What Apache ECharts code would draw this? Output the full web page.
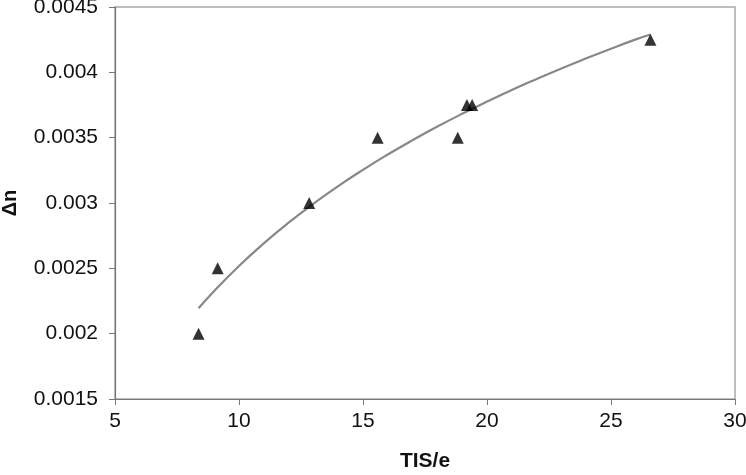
<!DOCTYPE html>
<html>
<head>
<meta charset="utf-8">
<script src="https://cdn.jsdelivr.net/npm/echarts@6/dist/echarts.min.js"></script>
<style>
html,body{margin:0;padding:0;background:#fff;}
#chart{width:746px;height:475px;}
</style>
</head>
<body>
<div id="chart"></div>
<script>
// Measured data points (TIS/e, Δn)
var pointsX = [8.37, 9.14, 12.83, 15.59, 18.82, 19.19, 19.4, 26.59];
var pointsY = [0.002, 0.0025, 0.003, 0.0035, 0.0035, 0.00375, 0.00375, 0.00425];

// Trend curve
var curveX = [8.37, 9, 10, 11, 12, 13, 14, 15, 16, 17, 18, 19, 20, 21, 22, 23, 24, 25, 26, 26.59];
var curveY = [0.002195, 0.002327, 0.002518, 0.002691, 0.002849, 0.002994, 0.003129, 0.003254, 0.003371, 0.003481, 0.003585, 0.003683, 0.003776, 0.003865, 0.003949, 0.004030, 0.004107, 0.004181, 0.004252, 0.004290];

var xTicks = [5, 10, 15, 20, 25, 30];
var yTicks = [0.0015, 0.002, 0.0025, 0.003, 0.0035, 0.004, 0.0045];

var xName = 'TIS/e';
var yName = 'Δn';

var pts = pointsX.map(function(x, i){ return [x, pointsY[i]]; });
var crv = curveX.map(function(x, i){ return [x, curveY[i]]; });

var font = 'Liberation Sans, Arial, sans-serif';
var chart = echarts.init(document.getElementById('chart'), null, {renderer: 'canvas'});
chart.setOption({
  animation: false,
  backgroundColor: '#fff',
  grid: {left: 115, right: 11, top: 7, bottom: 76, show: true, borderColor: '#a8a8a8', borderWidth: 1.5,
         containLabel: false, outerBoundsMode: 'none'},
  xAxis: {
    type: 'value', min: xTicks[0], max: xTicks[xTicks.length-1], interval: 5,
    name: xName, nameLocation: 'middle', nameGap: 52,
    nameTextStyle: {fontFamily: font, fontSize: 21, fontWeight: 'bold', color: '#111'},
    axisLine: {show: true, lineStyle: {color: '#777', width: 1.2}},
    axisTick: {show: true, inside: false, length: 6, lineStyle: {color: '#777'}},
    axisLabel: {fontFamily: font, fontSize: 21, color: '#111', margin: 12},
    splitLine: {show: false}
  },
  yAxis: {
    type: 'value', min: yTicks[0], max: yTicks[yTicks.length-1], interval: 0.0005,
    name: yName, nameLocation: 'middle', nameGap: 95, nameRotate: 90,
    nameTextStyle: {fontFamily: font, fontSize: 20, fontWeight: 'bold', color: '#111'},
    axisLine: {show: true, lineStyle: {color: '#777', width: 1.2}},
    axisTick: {show: true, inside: false, length: 6, lineStyle: {color: '#777'}},
    axisLabel: {fontFamily: font, fontSize: 21, color: '#111', margin: 17,
      formatter: function(v){ return String(parseFloat(v.toFixed(5))); }},
    splitLine: {show: false}
  },
  series: [
    {
      type: 'line', data: crv, smooth: true, showSymbol: false, symbol: 'none',
      lineStyle: {color: '#888', width: 2.2}, z: 2
    },
    {
      type: 'scatter', data: pts, symbol: 'triangle', symbolSize: 12,
      itemStyle: {color: '#000'}, z: 3
    }
  ]
});
</script>
</body>
</html>
